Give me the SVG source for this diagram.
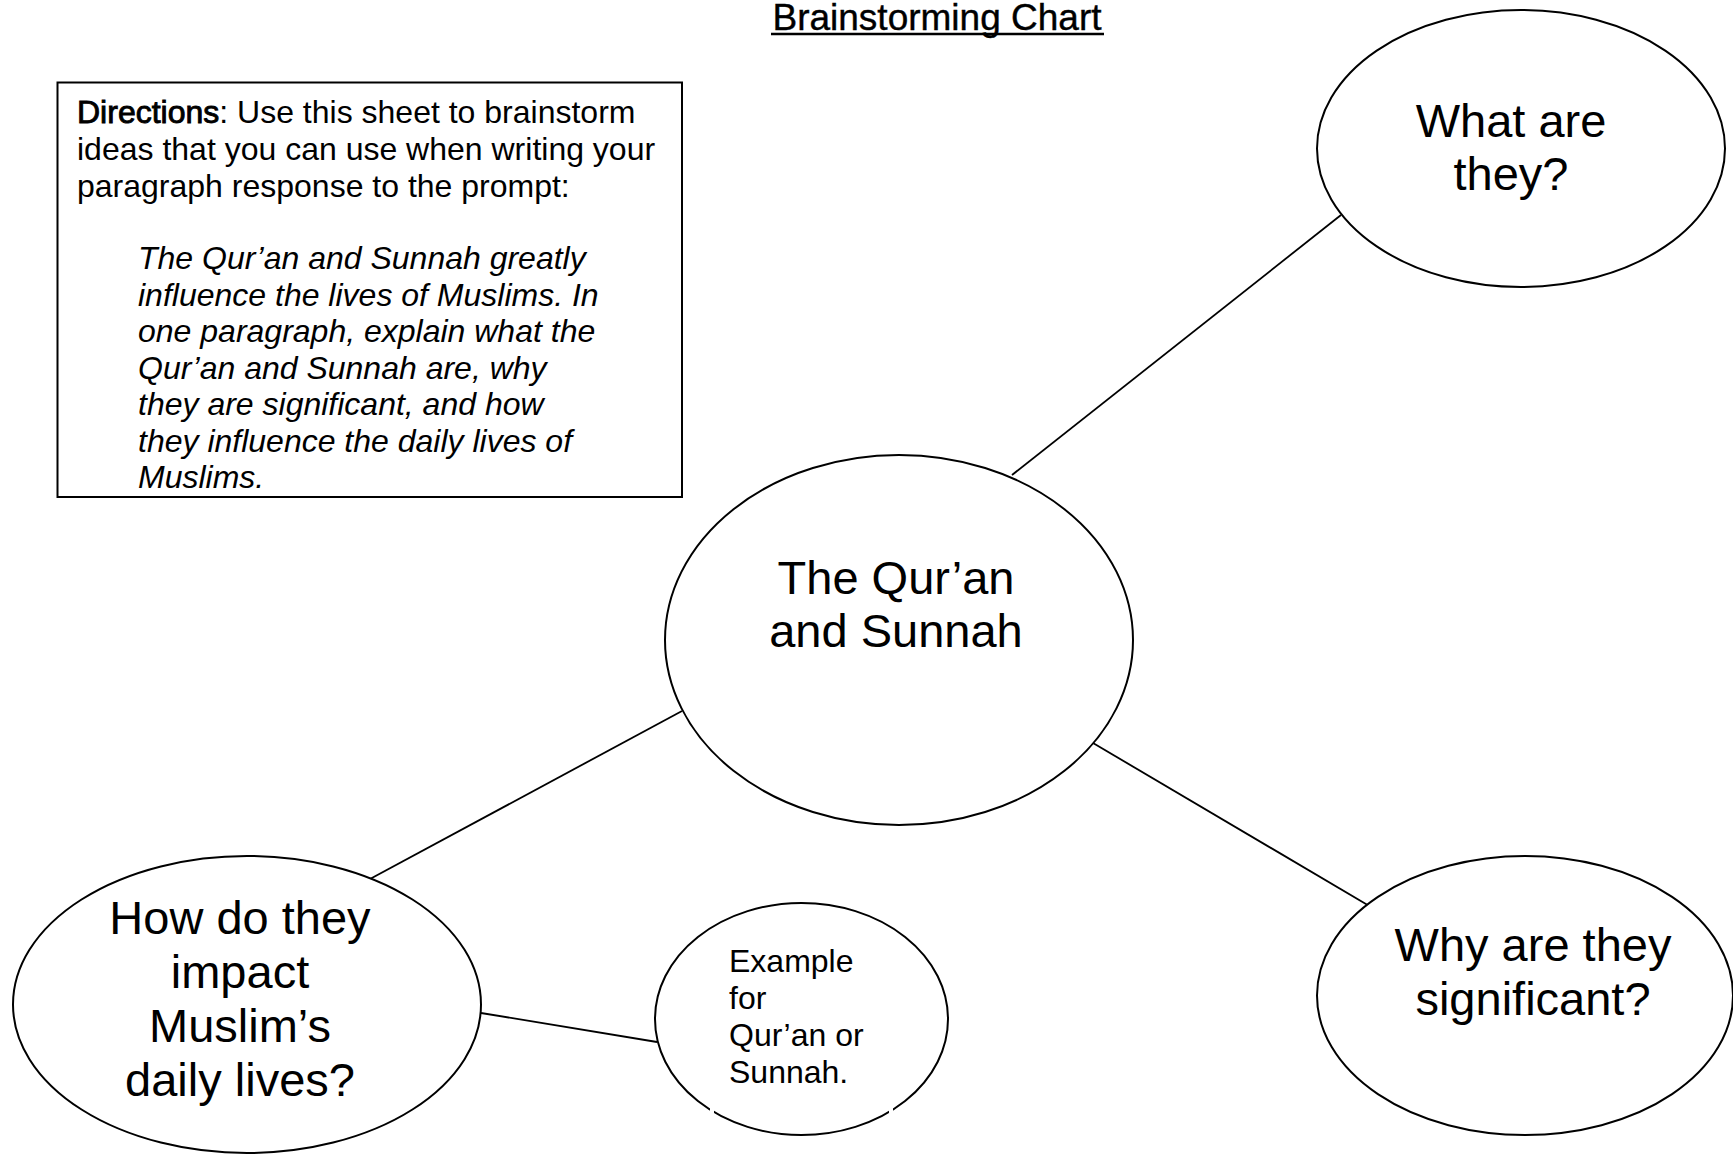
<svg xmlns="http://www.w3.org/2000/svg" width="1733" height="1155" viewBox="0 0 1733 1155">
<style>
text{font-family:"Liberation Sans",Arial,sans-serif;fill:#000}
.node{fill:#fff;stroke:#000;stroke-width:2}
.big{font-size:47px;text-anchor:middle}
.small{font-size:32px}
.dir{font-size:32px}
.it{font-style:italic}
.conn line{stroke:#000;stroke-width:1.8}
</style>
<rect width="1733" height="1155" fill="#fff"/>
<g id="title">
<text x="937" y="30" font-size="37" text-anchor="middle" stroke="#000" stroke-width="0.4">Brainstorming Chart</text>
<line x1="771" y1="34" x2="1104" y2="34" stroke="#000" stroke-width="2.5"/>
</g>
<g id="directions">
<rect x="57.5" y="82.5" width="624.5" height="414.5" fill="#fff" stroke="#000" stroke-width="2"/>
<text class="dir" x="77" y="123"><tspan stroke="#000" stroke-width="0.9">Directions</tspan>: Use this sheet to brainstorm</text>
<text class="dir" x="77" y="159.5">ideas that you can use when writing your</text>
<text class="dir" x="77" y="197">paragraph response to the prompt:</text>
<text class="dir it" x="138" y="269">The Qur’an and Sunnah greatly</text>
<text class="dir it" x="138" y="305.5">influence the lives of Muslims. In</text>
<text class="dir it" x="138" y="342">one paragraph, explain what the</text>
<text class="dir it" x="138" y="378.5">Qur’an and Sunnah are, why</text>
<text class="dir it" x="138" y="415">they are significant, and how</text>
<text class="dir it" x="138" y="451.5">they influence the daily lives of</text>
<text class="dir it" x="138" y="488">Muslims.</text>
</g>
<g class="conn" id="connectors">
<line x1="1012" y1="475" x2="1341" y2="215"/>
<line x1="682" y1="711" x2="370" y2="879"/>
<line x1="1093" y1="743" x2="1371" y2="907"/>
<line x1="481" y1="1013" x2="657" y2="1042"/>
</g>
<g id="node-center">
<ellipse class="node" cx="899" cy="640" rx="234" ry="185"/>
<text class="big" x="896" y="594">The Qur’an</text>
<text class="big" x="896" y="647">and Sunnah</text>
</g>
<g id="node-what">
<ellipse class="node" cx="1521" cy="148.5" rx="204" ry="138.5"/>
<text class="big" x="1511" y="137">What are</text>
<text class="big" x="1511" y="190">they?</text>
</g>
<g id="node-why">
<ellipse class="node" cx="1525" cy="995.5" rx="208" ry="139.5"/>
<text class="big" x="1533" y="961">Why are they</text>
<text class="big" x="1533" y="1015">significant?</text>
</g>
<g id="node-how">
<ellipse class="node" cx="247" cy="1004.5" rx="234" ry="148.5"/>
<text class="big" x="240" y="934">How do they</text>
<text class="big" x="240" y="988">impact</text>
<text class="big" x="240" y="1042">Muslim’s</text>
<text class="big" x="240" y="1096">daily lives?</text>
</g>
<g id="node-example">
<ellipse class="node" cx="801.5" cy="1019" rx="146.5" ry="116"/>
<text class="small" x="729" y="972">Example</text>
<text class="small" x="729" y="1009">for</text>
<text class="small" x="729" y="1046">Qur’an or</text>
<text class="small" x="729" y="1083">Sunnah.</text>
<rect x="710" y="1106" width="4" height="7" fill="#fff"/>
<rect x="889" y="1108" width="4" height="7" fill="#fff"/>
</g>
</svg>
